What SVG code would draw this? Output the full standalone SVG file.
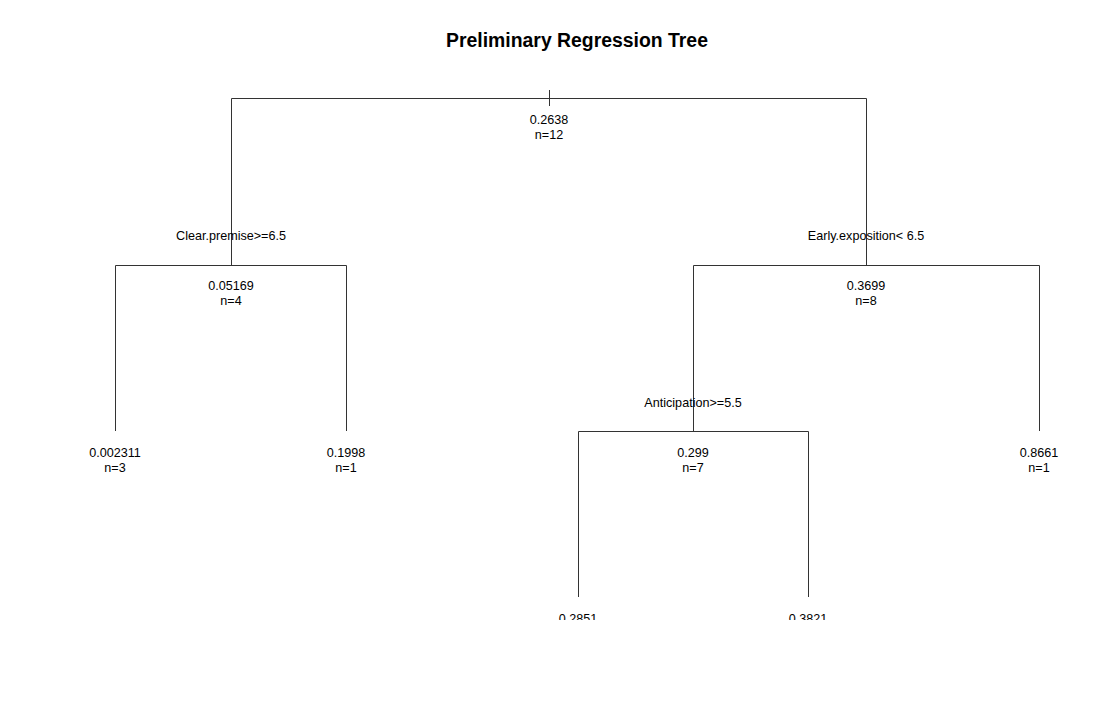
<svg xmlns="http://www.w3.org/2000/svg" width="1117" height="716" viewBox="0 0 1117 716">
<style>
text{font-family:"Liberation Sans",Arial,sans-serif;font-size:12.6px;fill:#000;text-anchor:middle}
.title{font-size:19.4px;font-weight:bold}
.e{stroke:#333;stroke-width:1;fill:none}
</style>
<defs><clipPath id="c"><rect x="0" y="0" width="1117" height="620"/></clipPath></defs>
<rect width="1117" height="716" fill="#fff"/>
<text class="title" x="577" y="47">Preliminary Regression Tree</text>
<g id="connectors">
<path class="e" d="M549.5 90V106"/>
<path class="e" d="M231.5 265V98.5H866.5V265"/>
<path class="e" d="M115.5 431V265.5H346.5V431"/>
<path class="e" d="M693.5 431V265.5H1039.5V431"/>
<path class="e" d="M578.5 597V431.5H808.5V597"/>
</g>
<g id="root"><text x="549" y="124">0.2638</text><text x="549" y="139">n=12</text></g>
<g id="split-left"><text x="231" y="240">Clear.premise&gt;=6.5</text><text x="231" y="290">0.05169</text><text x="231" y="305">n=4</text></g>
<g id="split-right"><text x="866" y="240">Early.exposition&lt; 6.5</text><text x="866" y="290">0.3699</text><text x="866" y="305">n=8</text></g>
<g id="leaf1"><text x="115" y="457">0.002311</text><text x="115" y="472">n=3</text></g>
<g id="leaf2"><text x="346" y="457">0.1998</text><text x="346" y="472">n=1</text></g>
<g id="split-ant"><text x="693" y="407">Anticipation&gt;=5.5</text><text x="693" y="457">0.299</text><text x="693" y="472">n=7</text></g>
<g id="leaf5"><text x="1039" y="457">0.8661</text><text x="1039" y="472">n=1</text></g>
<g id="leaf3" clip-path="url(#c)"><text x="578" y="623">0.2851</text></g>
<g id="leaf4" clip-path="url(#c)"><text x="808" y="623">0.3821</text></g>
</svg>
